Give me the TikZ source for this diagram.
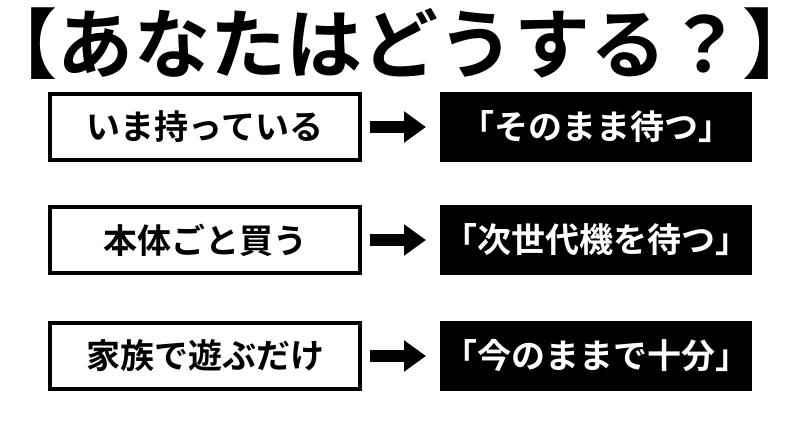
\documentclass[tikz,border=0pt]{standalone}
\usepackage{fontspec}
\newfontfamily\cjk[BoldFont={Noto Sans CJK JP Bold}]{Noto Sans CJK JP}
\usetikzlibrary{arrows.meta}
\begin{document}
\begin{tikzpicture}[x=1pt,y=-1pt,
 lbox/.style={draw=black,line width=4pt,fill=white,minimum width=310pt,minimum height=66pt,font=\cjk\bfseries\fontsize{34}{34}\selectfont,inner sep=0pt},
 rbox/.style={fill=black,text=white,minimum width=312pt,minimum height=70pt,font=\cjk\bfseries\fontsize{34}{34}\selectfont,inner sep=0pt},
 arr/.style={-{Triangle[length=22pt,width=30pt]},line width=12pt}]
\useasboundingbox (0,0) rectangle (800,429);
\node[font=\cjk\bfseries\fontsize{76}{76}\selectfont,inner sep=0pt] (t) at (400,44) {【あなたはどうする？】};
\foreach \i/\y/\l/\r in {1/127/いま持っている/「そのまま待つ」,2/240/本体ごと買う/「次世代機を待つ」,3/356/家族で遊ぶだけ/「今のままで十分」}{
 \node[lbox] (l\i) at (205,\y) {\l};
 \node[rbox] (r\i) at (596,\y) {\r};
 \draw[arr] (370,\y) -- (426,\y);
}
\end{tikzpicture}
\end{document}
